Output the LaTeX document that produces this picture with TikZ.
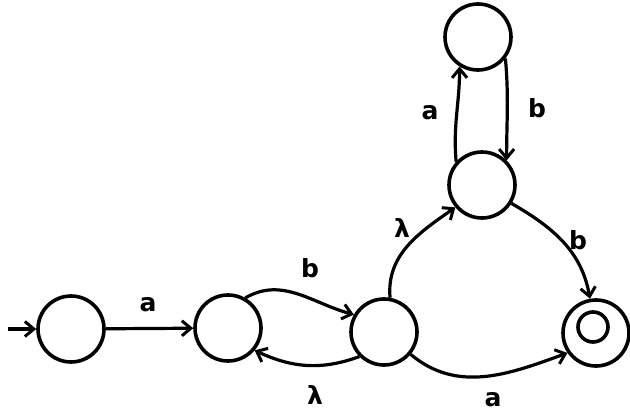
\documentclass[tikz,border=0pt]{standalone}
\usepackage{fontspec}
\setmainfont{DejaVu Sans}
\usetikzlibrary{arrows.meta}
\begin{document}
\begin{tikzpicture}[x=1pt,y=-1pt,
  state/.style={circle,draw,line width=3.6pt,minimum size=66pt,inner sep=0pt},
  edge/.style={line width=3.2pt,-{Straight Barb[length=9pt,width=15pt,line width=3pt]}},
  lbl/.style={font=\fontsize{25}{25}\selectfont\bfseries}]
\useasboundingbox (0,0) rectangle (630,417);
\node[state] (q0) at (71,329) {};
\node[state] (q1) at (228,328) {};
\node[state] (q2) at (384,332) {};
\node[state] (q3) at (482,185) {};
\node[state] (q4) at (478,37) {};
\node[state] (q5) at (596,333) {};
\node[circle,draw,line width=3.6pt,minimum size=30pt,inner sep=0pt] (q5i) at (593,327) {};
\coordinate (start) at (8,329);
\draw[edge] (start) -- (q0);
\draw[edge] (q0) -- (q1);
\draw[edge] (q1.60) to[out=30,in=165] (q2.150);
\draw[edge] (q2.-135) to[out=-160,in=-25] (q1.-40);
\draw[edge] (q2.80) to[out=95,in=-145] (q3.-140);
\draw[edge] (q3.-32) to[out=-30,in=100] (q5.100);
\draw[edge] (q2.-40) to[out=-40,in=-160] (q5.-145);
\draw[edge] (q3.138) to[out=95,in=-90] (q4.-122);
\draw[edge] (q4.-38) to[out=-85,in=90] (q3.45);
\node[lbl] (la) at (148,305) {a};
\node[lbl] (lb1) at (310,268) {b};
\node[lbl] (ll1) at (315,395) {λ};
\node[lbl] (ll2) at (402,228) {λ};
\node[lbl] (lb2) at (578,240) {b};
\node[lbl] (la2) at (493,400) {a};
\node[lbl] (la3) at (430,113) {a};
\node[lbl] (lb3) at (537,108) {b};
\end{tikzpicture}
\end{document}
